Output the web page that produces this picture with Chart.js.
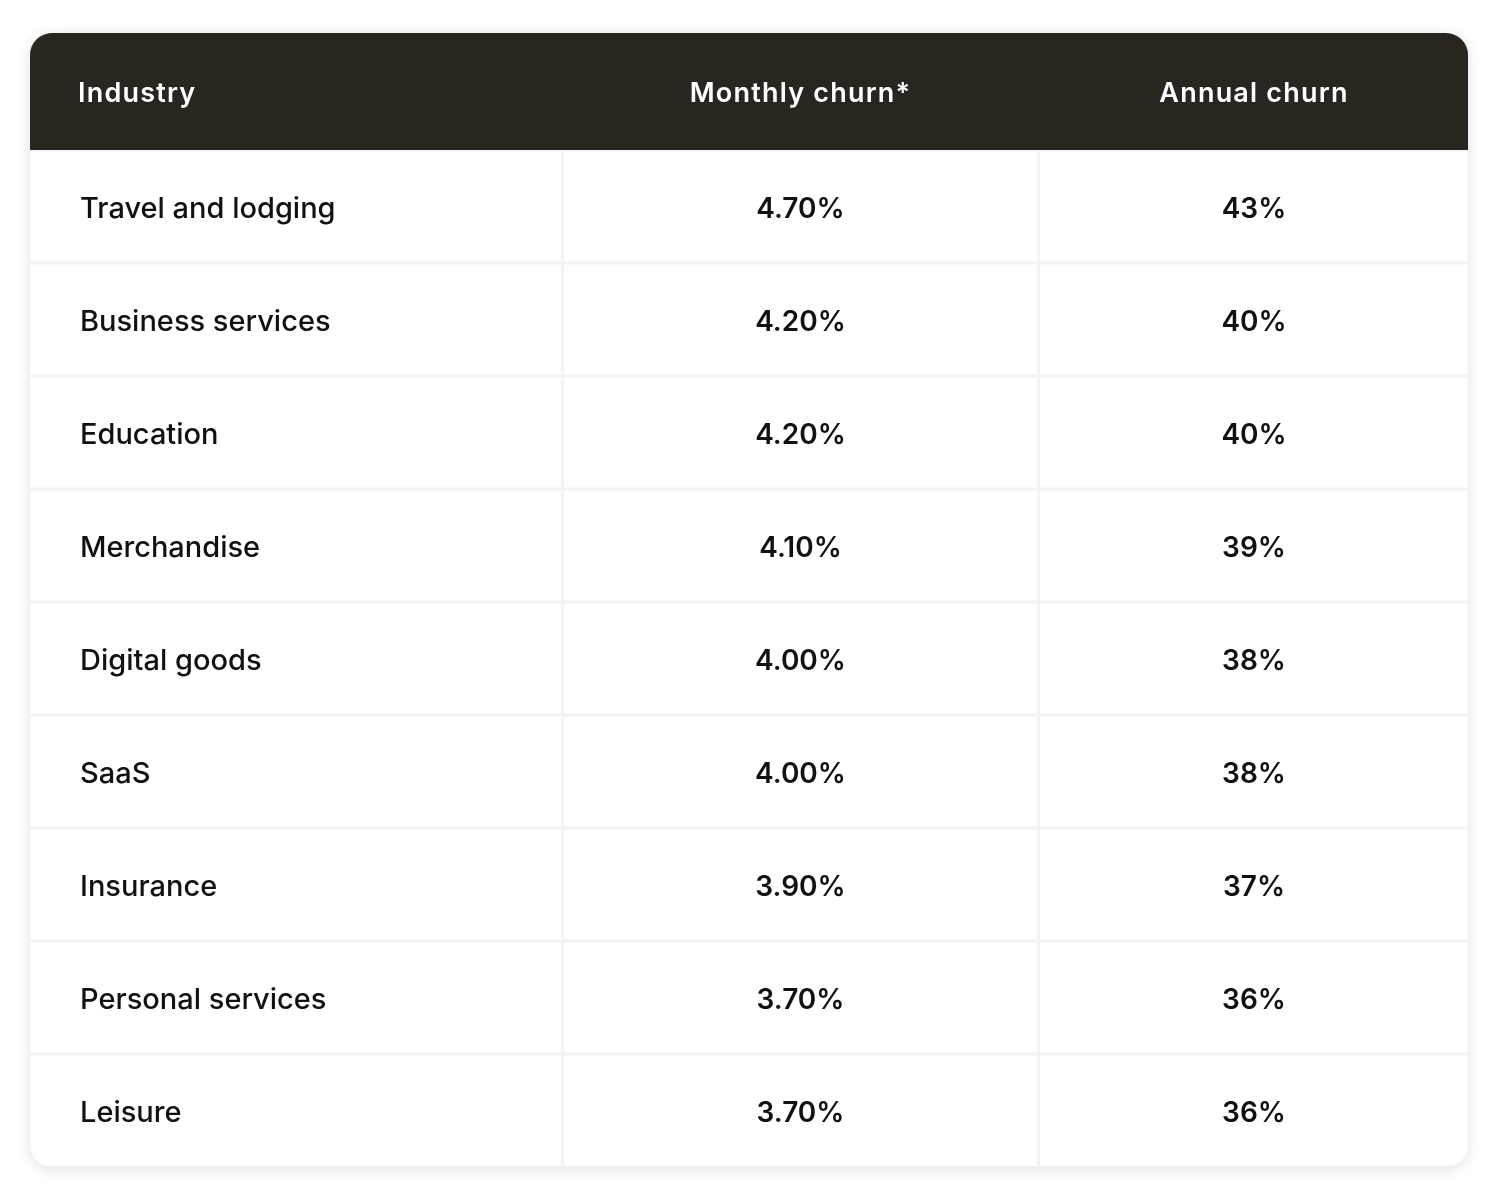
<!DOCTYPE html>
<html><head><meta charset="utf-8">
<script src="https://cdn.jsdelivr.net/npm/chart.js@4.4.1/dist/chart.umd.min.js"></script>
<style>html,body{margin:0;padding:0;background:#fff;}canvas{display:block}</style>
</head><body>
<canvas id="c" width="1490" height="1184" style="width:1490px;height:1184px"></canvas>
<script>
// ---- data ----
const columns = ['Industry', 'Monthly churn*', 'Annual churn'];
const industries = ['Travel and lodging', 'Business services', 'Education', 'Merchandise', 'Digital goods', 'SaaS', 'Insurance', 'Personal services', 'Leisure'];
const monthlyChurn = [4.70, 4.20, 4.20, 4.10, 4.00, 4.00, 3.90, 3.70, 3.70];
const annualChurn = [43, 40, 40, 39, 38, 38, 37, 36, 36];

// ---- layout (not data) ----
const CARD = { left: 30, top: 33, right: 1468, bottom: 1167, radius: 22 };
const HEADER_BOTTOM = 150;
const COL_EDGES = [0, 532.5, 1008.5, 1438];
const GAP = 3;
const ROW_H = (CARD.bottom - HEADER_BOTTOM) / industries.length;

const cellRanges = COL_EDGES.slice(0, -1).map((s, i) => {
  const e = COL_EDGES[i + 1];
  return [i === 0 ? s : s + GAP / 2, i === COL_EDGES.length - 2 ? e : e - GAP / 2];
});

const cellText = [
  industries,
  monthlyChurn.map(v => v.toFixed(2) + '%'),
  annualChurn.map(v => v + '%')
];

function roundRectPath(ctx, x0, y0, x1, y1, r, bottomRound) {
  ctx.beginPath();
  ctx.moveTo(x0 + r, y0);
  ctx.lineTo(x1 - r, y0);
  ctx.arcTo(x1, y0, x1, y0 + r, r);
  if (bottomRound) {
    ctx.lineTo(x1, y1 - r);
    ctx.arcTo(x1, y1, x1 - r, y1, r);
    ctx.lineTo(x0 + r, y1);
    ctx.arcTo(x0, y1, x0, y1 - r, r);
  } else {
    ctx.lineTo(x1, y1);
    ctx.lineTo(x0, y1);
  }
  ctx.lineTo(x0, y0 + r);
  ctx.arcTo(x0, y0, x0 + r, y0, r);
  ctx.closePath();
}

const tablePlugin = {
  id: 'tablePlugin',
  beforeDraw(chart) {
    const ctx = chart.ctx;
    ctx.save();
    roundRectPath(ctx, CARD.left, CARD.top, CARD.right, CARD.bottom, CARD.radius, true);
    ctx.shadowColor = 'rgba(0,0,0,0.13)';
    ctx.shadowBlur = 14;
    ctx.shadowOffsetY = 2;
    ctx.fillStyle = '#f3f3f3';
    ctx.fill();
    ctx.restore();
    ctx.save();
    roundRectPath(ctx, CARD.left, CARD.top, CARD.right, chart.chartArea.top, CARD.radius, false);
    ctx.fillStyle = '#2b2520';
    ctx.fill();
    ctx.restore();
  },
  beforeDatasetsDraw(chart) {
    const ctx = chart.ctx;
    ctx.save();
    roundRectPath(ctx, CARD.left, CARD.top, CARD.right, CARD.bottom, CARD.radius, true);
    ctx.clip();
  },
  afterDatasetsDraw(chart) {
    const ctx = chart.ctx;
    ctx.restore();
    const xs = chart.scales.x, ys = chart.scales.y;
    ctx.save();
    // header
    ctx.fillStyle = '#ffffff';
    ctx.font = '600 27px Inter';
    ctx.letterSpacing = '1.2px';
    ctx.textBaseline = 'alphabetic';
    const hy = (CARD.top + chart.chartArea.top) / 2 + 10;
    columns.forEach((c, i) => {
      const [s, e] = cellRanges[i];
      if (i === 0) {
        ctx.textAlign = 'left';
        ctx.fillText(c, xs.getPixelForValue(s) + 48, hy);
      } else {
        ctx.textAlign = 'center';
        ctx.fillText(c, xs.getPixelForValue((s + e) / 2), hy);
      }
    });
    // body
    ctx.letterSpacing = '0px';
    ctx.fillStyle = '#111111';
    industries.forEach((name, r) => {
      const yc = ys.getPixelForValue(r) + 11;
      cellText.forEach((col, i) => {
        const [s, e] = cellRanges[i];
        if (i === 0) {
          ctx.font = '500 29px Inter';
          ctx.textAlign = 'left';
          ctx.fillText(col[r], xs.getPixelForValue(s) + 50, yc);
        } else {
          ctx.font = '600 28px Inter';
          ctx.textAlign = 'center';
          ctx.fillText(col[r], xs.getPixelForValue((s + e) / 2), yc);
        }
      });
    });
    ctx.restore();
  }
};

new Chart(document.getElementById('c'), {
  type: 'bar',
  data: {
    labels: industries,
    datasets: cellRanges.map((range, i) => ({
      label: columns[i],
      data: industries.map(() => range.slice()),
      backgroundColor: '#ffffff',
      borderWidth: 0,
      barPercentage: (ROW_H - GAP) / ROW_H,
      categoryPercentage: 1,
      grouped: false,
      inflateAmount: 0
    }))
  },
  options: {
    indexAxis: 'y',
    responsive: false,
    animation: false,
    devicePixelRatio: 1,
    layout: { padding: { left: CARD.left, right: 1490 - CARD.right, top: HEADER_BOTTOM, bottom: 1184 - CARD.bottom } },
    scales: {
      x: { type: 'linear', min: 0, max: COL_EDGES[COL_EDGES.length - 1], display: false },
      y: { type: 'category', display: false, offset: true }
    },
    plugins: { legend: { display: false }, tooltip: { enabled: false } }
  },
  plugins: [tablePlugin]
});
</script>
</body></html>
